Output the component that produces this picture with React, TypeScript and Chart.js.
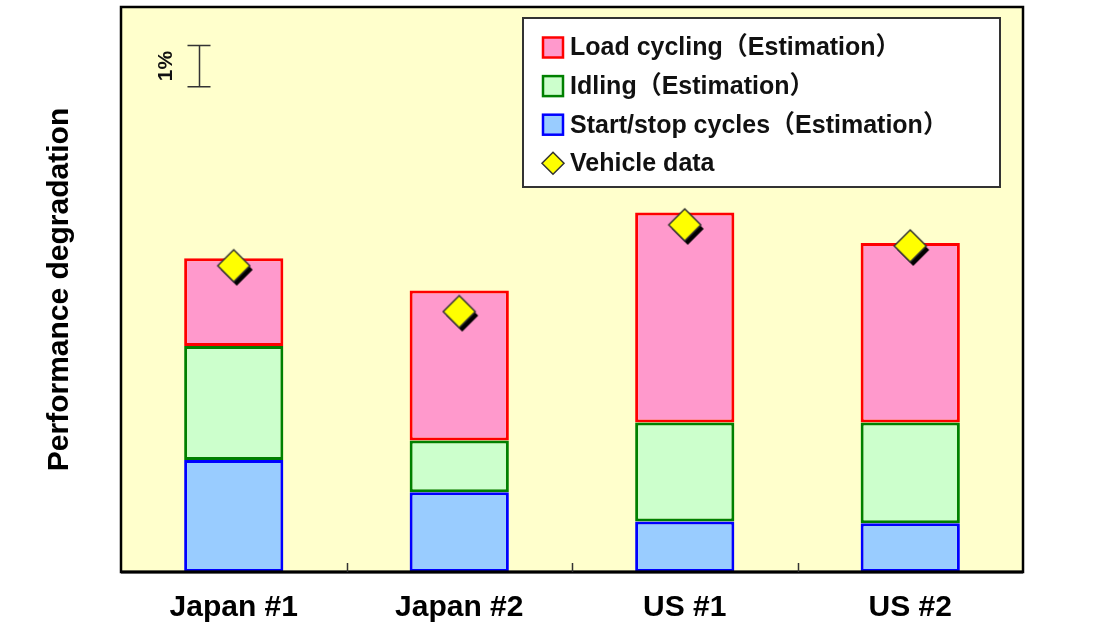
import React, { useEffect, useRef } from 'react';
import { Chart, registerables } from 'chart.js';

Chart.register(...registerables);

// ---- data ----
const categories = ['Japan #1', 'Japan #2', 'US #1', 'US #2'];
const startStopCycles = [2.71, 1.93, 1.22, 1.18];
const idling = [2.76, 1.25, 2.40, 2.44];
const loadCycling = [2.12, 3.63, 5.08, 4.34];
const vehicleData = [7.41, 6.30, 8.40, 7.89];
const legendLabels = [
  'Load cycling（Estimation）',
  'Idling（Estimation）',
  'Start/stop cycles（Estimation）',
  'Vehicle data',
];
const yAxisTitle = 'Performance degradation';
const yMax = 13.67;
const scaleBarTop = 12.74;
const scaleBarSize = 1;
const scaleBarLabel = '1%';

const FONT = '"Liberation Sans", Arial, "Noto Sans CJK JP", sans-serif';

function makeDiamondMarker(): HTMLCanvasElement {
  const size = 44;
  const c = document.createElement('canvas');
  c.width = size;
  c.height = size;
  const g = c.getContext('2d')!;
  const r = 16;
  const diamond = (cx: number, cy: number) => {
    g.beginPath();
    g.moveTo(cx, cy - r);
    g.lineTo(cx + r, cy);
    g.lineTo(cx, cy + r);
    g.lineTo(cx - r, cy);
    g.closePath();
  };
  // shadow
  diamond(size / 2 + 3, size / 2 + 4);
  g.fillStyle = '#000000';
  g.fill();
  // marker
  diamond(size / 2, size / 2);
  g.fillStyle = '#FFFF00';
  g.fill();
  g.strokeStyle = '#333333';
  g.lineWidth = 1.5;
  g.stroke();
  return c;
}

const overlayPlugin = {
  id: 'overlay',
  beforeDraw(chart: any) {
    const { ctx, chartArea: a } = chart;
    ctx.save();
    ctx.fillStyle = '#FFFFCC';
    ctx.fillRect(a.left, a.top, a.right - a.left, a.bottom - a.top);
    ctx.restore();
  },
  afterDraw(chart: any) {
    const { ctx, chartArea: a, scales } = chart;
    const xs = scales.x;
    const ys = scales.y;
    ctx.save();
    // frame
    ctx.strokeStyle = '#000';
    ctx.lineWidth = 2.5;
    ctx.strokeRect(a.left, a.top, a.right - a.left, a.bottom - a.top);
    ctx.lineWidth = 3;
    ctx.beginPath();
    ctx.moveTo(a.left, a.bottom);
    ctx.lineTo(a.right, a.bottom);
    ctx.stroke();
    // inner ticks between categories
    ctx.lineWidth = 1.5;
    ctx.strokeStyle = '#333';
    for (let i = 0; i < categories.length - 1; i++) {
      const x = Math.round((xs.getPixelForValue(i) + xs.getPixelForValue(i + 1)) / 2) + 0.5;
      ctx.beginPath();
      ctx.moveTo(x, a.bottom);
      ctx.lineTo(x, a.bottom - 9);
      ctx.stroke();
    }
    // 1% scale bar
    const yTop = ys.getPixelForValue(scaleBarTop);
    const yBot = ys.getPixelForValue(scaleBarTop - scaleBarSize);
    const bx = a.left + 78.5;
    ctx.strokeStyle = '#333';
    ctx.lineWidth = 1.5;
    ctx.beginPath();
    ctx.moveTo(bx, yTop);
    ctx.lineTo(bx, yBot);
    ctx.moveTo(bx - 12, yTop);
    ctx.lineTo(bx + 11, yTop);
    ctx.moveTo(bx - 12, yBot);
    ctx.lineTo(bx + 11, yBot);
    ctx.stroke();
    ctx.save();
    ctx.translate(a.left + 45, (yTop + yBot) / 2);
    ctx.rotate(-Math.PI / 2);
    ctx.fillStyle = '#111';
    ctx.font = `bold 21px ${FONT}`;
    ctx.textAlign = 'center';
    ctx.textBaseline = 'middle';
    ctx.fillText(scaleBarLabel, 0, 0);
    ctx.restore();

    // legend
    const lx = a.right - 500;
    const ly = a.top + 11;
    const lw = 477;
    const lh = 169;
    ctx.fillStyle = '#FFFFFF';
    ctx.fillRect(lx, ly, lw, lh);
    ctx.strokeStyle = '#333';
    ctx.lineWidth = 2;
    ctx.strokeRect(lx, ly, lw, lh);
    const ds = chart.data.datasets;
    const order = [2, 1, 0, 3];
    ctx.font = `bold 25px ${FONT}`;
    ctx.textBaseline = 'middle';
    ctx.textAlign = 'left';
    order.forEach((di: number, row: number) => {
      const d = ds[di];
      const cy = ly + 29.5 + row * 38.6;
      const cx = lx + 30;
      if (d.type === 'line') {
        const r = 11;
        ctx.beginPath();
        ctx.moveTo(cx, cy - r);
        ctx.lineTo(cx + r, cy);
        ctx.lineTo(cx, cy + r);
        ctx.lineTo(cx - r, cy);
        ctx.closePath();
        ctx.fillStyle = d.backgroundColor;
        ctx.fill();
        ctx.strokeStyle = d.borderColor;
        ctx.lineWidth = 1.5;
        ctx.stroke();
      } else {
        ctx.fillStyle = d.backgroundColor;
        ctx.fillRect(cx - 10, cy - 10, 20, 20);
        ctx.strokeStyle = d.borderColor;
        ctx.lineWidth = 2.5;
        ctx.strokeRect(cx - 10, cy - 10, 20, 20);
      }
      ctx.fillStyle = '#111';
      ctx.fillText(d.label, lx + 47, cy + 1);
    });
    ctx.restore();
  },
};

export default function App() {
  const canvasRef = useRef<HTMLCanvasElement | null>(null);

  useEffect(() => {
    if (!canvasRef.current) return;
    const marker = makeDiamondMarker();
    const barCommon = {
      borderWidth: 3,
      borderSkipped: false as const,
      barPercentage: 0.44,
      categoryPercentage: 1,
    };
    const chart = new Chart(canvasRef.current, {
      type: 'bar',
      data: {
        labels: categories,
        datasets: [
          {
            type: 'bar',
            label: legendLabels[2],
            data: startStopCycles,
            backgroundColor: '#99CCFF',
            borderColor: '#0000FF',
            ...barCommon,
          },
          {
            type: 'bar',
            label: legendLabels[1],
            data: idling,
            backgroundColor: '#CCFFCC',
            borderColor: '#008000',
            ...barCommon,
          },
          {
            type: 'bar',
            label: legendLabels[0],
            data: loadCycling,
            backgroundColor: '#FF99CC',
            borderColor: '#FF0000',
            ...barCommon,
          },
          {
            type: 'line',
            label: legendLabels[3],
            data: vehicleData,
            stack: 'vehicle',
            showLine: false,
            pointStyle: marker,
            pointRadius: 16,
            backgroundColor: '#FFFF00',
            borderColor: '#333333',
            order: -1,
            clip: false,
          } as any,
        ],
      },
      options: {
        animation: false,
        responsive: true,
        maintainAspectRatio: false,
        layout: { autoPadding: false, padding: { top: 7, right: 73, left: 0, bottom: 0 } },
        plugins: {
          legend: { display: false },
          tooltip: { enabled: false },
        },
        scales: {
          x: {
            stacked: true,
            offset: true,
            grid: { display: false, drawTicks: false },
            border: { display: false },
            ticks: {
              color: '#000',
              padding: 18,
              font: { family: FONT, size: 30, weight: 'bold' },
            },
            afterFit: (s: any) => {
              s.height = 71;
            },
          },
          y: {
            stacked: true,
            min: 0,
            max: yMax,
            grid: { display: false, drawTicks: false },
            border: { display: false },
            ticks: { display: false },
            title: {
              display: true,
              text: yAxisTitle,
              color: '#000',
              font: { family: FONT, size: 30, weight: 'bold' },
              padding: { top: 42, bottom: 0 },
            },
            afterFit: (s: any) => {
              s.width = 121;
            },
          },
        },
      },
      plugins: [overlayPlugin],
    });
    return () => chart.destroy();
  }, []);

  return (
    <div
      style={{
        position: 'fixed',
        left: 0,
        top: 0,
        width: 1096,
        height: 643,
        background: '#ffffff',
      }}
    >
      <canvas ref={canvasRef} />
    </div>
  );
}
